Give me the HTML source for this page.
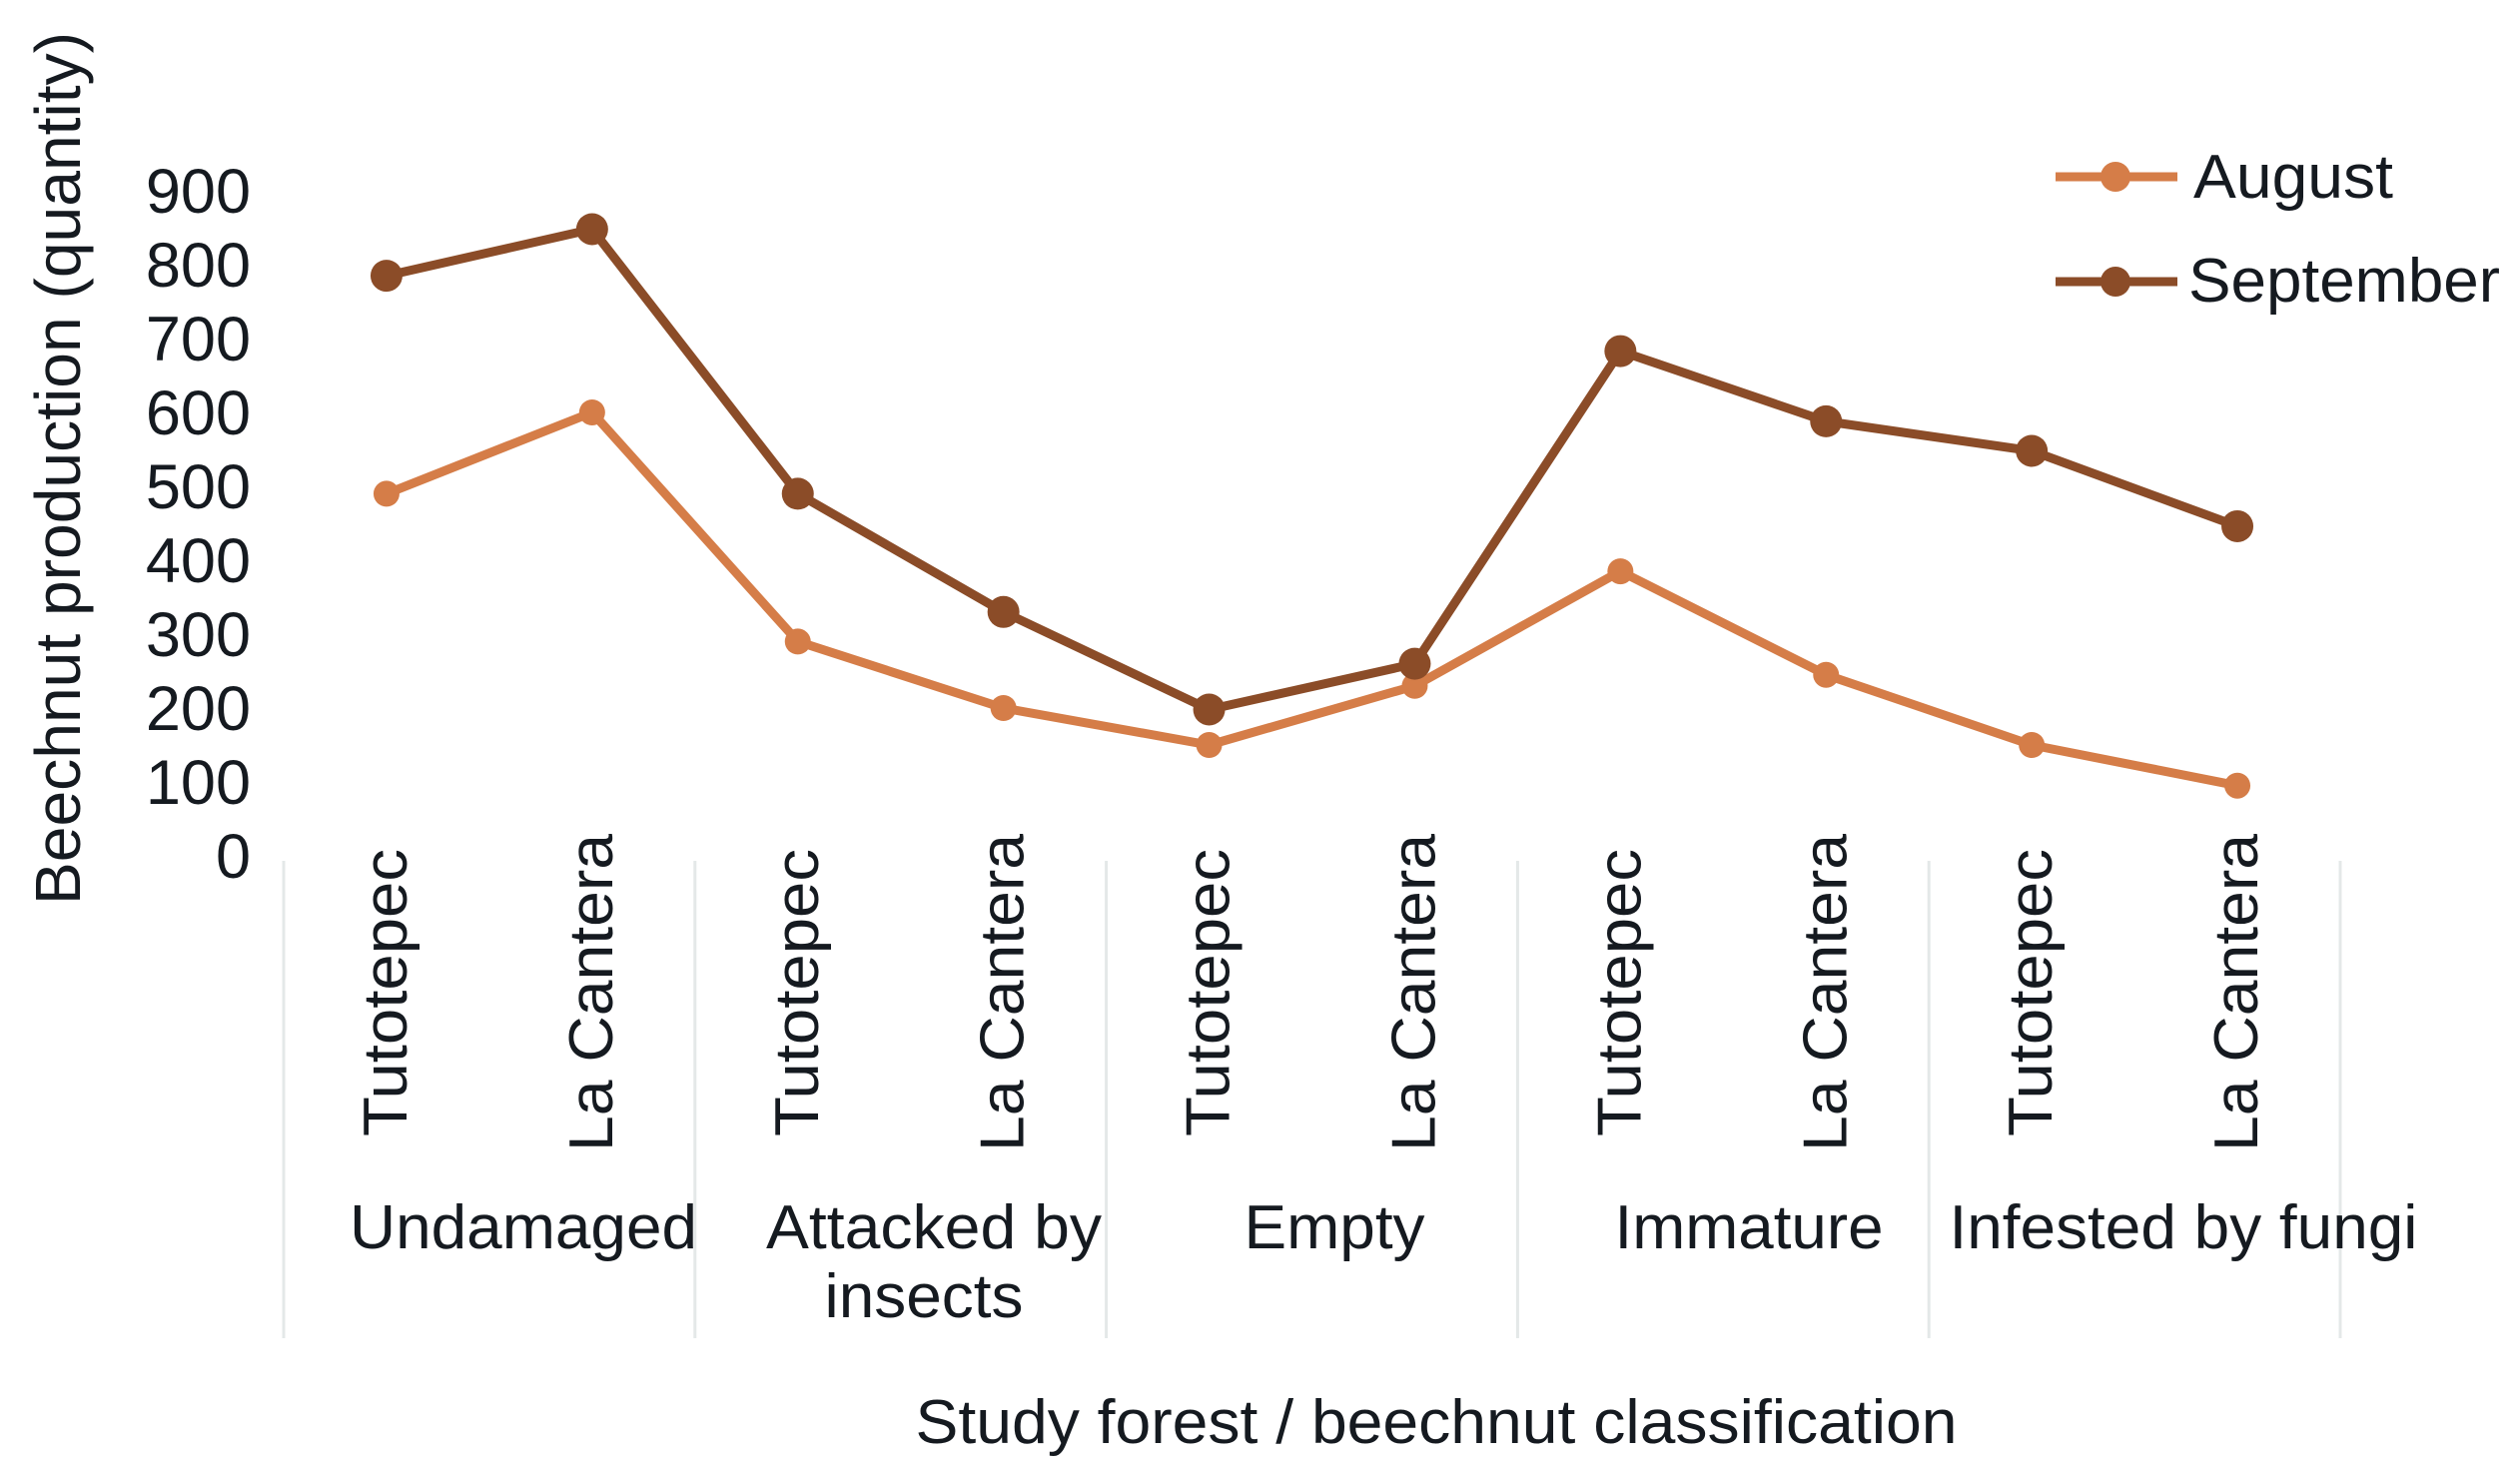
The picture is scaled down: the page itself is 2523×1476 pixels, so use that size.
<!DOCTYPE html>
<html><head><meta charset="utf-8"><style>
html,body{margin:0;padding:0;background:#fff;}
svg{display:block;}
text{font-family:"Liberation Sans",sans-serif;fill:#151a20;}
</style></head><body>
<svg id="chart" width="2523" height="1476" viewBox="0 0 2523 1476" xmlns="http://www.w3.org/2000/svg">
<g id="grid"></g>
<g id="yticks"></g>
<g id="xlabels"></g>
<g id="series"></g>
<text transform="translate(80,469) rotate(-90)" text-anchor="middle" font-size="64" textLength="874" lengthAdjust="spacingAndGlyphs">Beechnut production (quantity)</text>
<text x="1438" y="1445" text-anchor="middle" font-size="62" textLength="1043" lengthAdjust="spacingAndGlyphs">Study forest / beechnut classification</text>
<g>
  <g>
    <line x1="2058" y1="177" x2="2180" y2="177" stroke="#d57d48" stroke-width="9"/>
    <circle cx="2118" cy="177" r="15" fill="#d57d48"/>
    <text x="2196" y="198" font-size="62" textLength="200" lengthAdjust="spacingAndGlyphs">August</text>
  </g>
  <g>
    <line x1="2058" y1="282" x2="2180" y2="282" stroke="#8b4c28" stroke-width="9"/>
    <circle cx="2118" cy="282" r="15" fill="#8b4c28"/>
    <text x="2191" y="302" font-size="62" textLength="312" lengthAdjust="spacingAndGlyphs">September</text>
  </g>
</g>
</svg>
<script>
const groups = ["Undamaged","Attacked by insects","Empty","Immature","Infested by fungi"];
const forests = ["Tutotepec","La Cantera"];
const august = [490,600,290,200,150,230,385,245,150,95];
const september = [785,848,490,330,198,260,683,588,548,446];
const yTicks = [0,100,200,300,400,500,600,700,800,900];

const NS="http://www.w3.org/2000/svg";
const x0=284, groupW=411.8, y0=857, pxPer=0.74;
function xScale(i){return x0 + (i+0.5)*groupW/2;}
function yScale(v){return y0 - v*pxPer;}
function mk(tag,attrs,parent){const e=document.createElementNS(NS,tag);for(const k in attrs)e.setAttribute(k,attrs[k]);parent.appendChild(e);return e;}

const grid=document.getElementById('grid');
for(let g=0; g<=groups.length; g++){
  const l=mk('line',{x1:x0+g*groupW,x2:x0+g*groupW,y1:862,y2:1340,stroke:'#e4e8e8','stroke-width':3},grid);
  
  
}
const yt=document.getElementById('yticks');
yTicks.forEach(v=>{
  const t=mk('text',{x:251,y:yScale(v)+22,'text-anchor':'end','font-size':63},yt);
  t.textContent=v;
  
  
});
const xl=document.getElementById('xlabels');
for(let i=0;i<groups.length*forests.length;i++){
  const name=forests[i%2];
  const cx=xScale(i)+20;
  const len = name==="Tutotepec"?288:318;
  const t=mk('text',{transform:`translate(${cx},994) rotate(-90)`,'text-anchor':'middle','font-size':62,textLength:len,lengthAdjust:'spacingAndGlyphs'},xl);
  t.textContent=name;
  
  
}
const groupLabelPos=[[524,348],[935,336],[1336,181],[1751,269],[2186,469]];
groups.forEach((g,k)=>{
  if(g==="Attacked by insects"){
    const t1=mk('text',{x:groupLabelPos[k][0],y:1250,'text-anchor':'middle','font-size':62,textLength:336,lengthAdjust:'spacingAndGlyphs'},xl);
    t1.textContent="Attacked by";
    
    
    const t2=mk('text',{x:925,y:1319,'text-anchor':'middle','font-size':62,textLength:199,lengthAdjust:'spacingAndGlyphs'},xl);
    t2.textContent="insects";
    
    
  } else {
    const t=mk('text',{x:groupLabelPos[k][0],y:1250,'text-anchor':'middle','font-size':62,textLength:groupLabelPos[k][1],lengthAdjust:'spacingAndGlyphs'},xl);
    t.textContent=g;
    
    
  }
});
const sg=document.getElementById('series');
[[august,'#d57d48',13,'august'],[september,'#8b4c28',16,'september']].forEach(([vals,col,r,nm])=>{
  const pts=vals.map((v,i)=>xScale(i)+','+yScale(v)).join(' ');
  const pl=mk('polyline',{points:pts,fill:'none',stroke:col,'stroke-width':9,'stroke-linejoin':'round'},sg);
  
  
  vals.forEach((v,i)=>{
    const c=mk('circle',{cx:xScale(i),cy:yScale(v),r:r,fill:col},sg);
    
    
  });
});
</script>
</body></html>
